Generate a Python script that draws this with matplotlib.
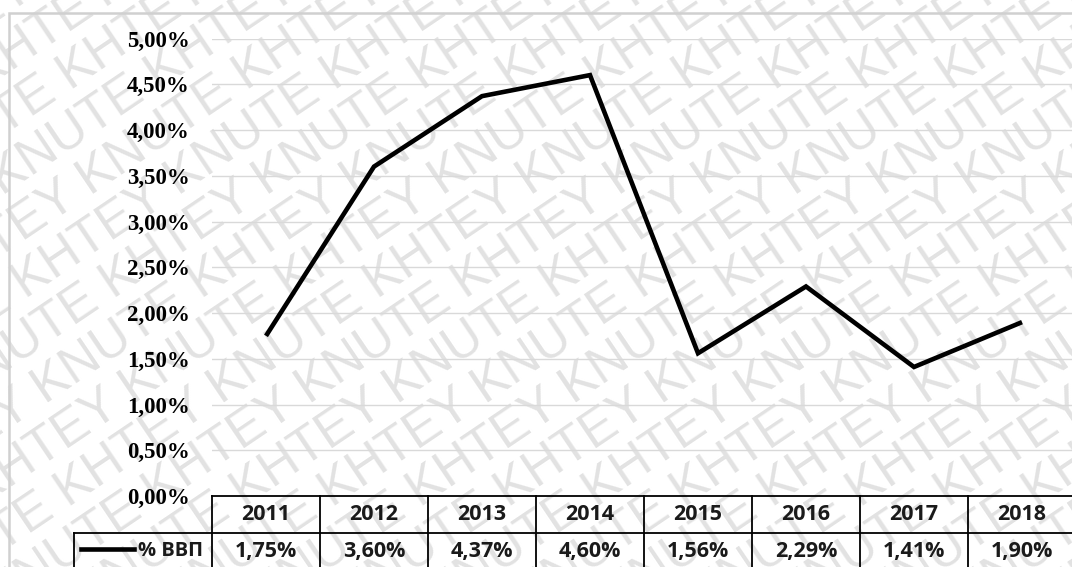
import matplotlib
matplotlib.use("Agg")
import matplotlib.pyplot as plt
from matplotlib.lines import Line2D
from matplotlib.patches import Rectangle
import matplotlib.transforms as mtransforms

years = ["2011", "2012", "2013", "2014", "2015", "2016", "2017", "2018"]
values = [1.75, 3.60, 4.37, 4.60, 1.56, 2.29, 1.41, 1.90]
value_labels = ["1,75%", "3,60%", "4,37%", "4,60%", "1,56%", "2,29%", "1,41%", "1,90%"]
series_name = "% ВВП"
y_ticks = [0.0, 0.5, 1.0, 1.5, 2.0, 2.5, 3.0, 3.5, 4.0, 4.5, 5.0]
watermark_text = "KNUTE KHTEY "

W, H = 1072, 567
fig = plt.figure(figsize=(W / 100, H / 100), dpi=100)
fig.patch.set_facecolor("white")

# watermark (behind everything)
for k in range(-12, 14):
    x0 = k * 88
    fig.text(x0 / W, -0.08, watermark_text * 7, rotation=34, rotation_mode="anchor",
             ha="left", va="baseline", fontsize=37, color="#e2e2e2",
             family="Liberation Sans", fontweight="normal", zorder=-5, transform=fig.transFigure)

# outer border
fig.patches.append(Rectangle((9 / W, -0.1), 1.2, (H - 13) / H + 0.1,
                             transform=fig.transFigure, fill=False,
                             edgecolor="#d0d0d0", linewidth=1.8, zorder=-1))

col_w = 108
ax_left, ax_right = 212, 212 + col_w * 8
ax_top, ax_bot = 38.5, 496
ax = fig.add_axes([ax_left / W, (H - ax_bot) / H, (ax_right - ax_left) / W, (ax_bot - ax_top) / H])
ax.set_facecolor("none")

x = list(range(len(years)))
ax.plot(x, values, color="black", linewidth=3.3, solid_capstyle="butt", solid_joinstyle="miter", zorder=3)

ax.set_xlim(-0.5, len(years) - 0.5)
ax.set_ylim(0, 5.0)
ax.set_yticks(y_ticks)
ax.set_yticklabels([("%.2f" % v).replace(".", ",") + "%" for v in y_ticks],
                   family="Liberation Serif", fontweight="bold", fontsize=16.5)
ax.tick_params(axis="y", length=0, pad=16)
ax.set_xticks([])
for s in ax.spines.values():
    s.set_visible(False)
ax.grid(axis="y", color="#d9d9d9", linewidth=1.0, zorder=0)

# data table
tr = mtransforms.blended_transform_factory(ax.transData, ax.transAxes)
row_h = 37 / (ax_bot - ax_top)
px = lambda p: (p - ax_left) / col_w - 0.5  # pixel -> data x
leg_left = px(74)
n = len(years)
lw = 1.3
ax.add_line(Line2D([-0.5, n - 0.5], [0, 0], color="black", lw=lw, transform=tr, clip_on=False, zorder=4))
ax.add_line(Line2D([leg_left, n - 0.5], [-row_h, -row_h], color="black", lw=lw, transform=tr, clip_on=False, zorder=4))
for i in range(n + 1):
    ax.add_line(Line2D([i - 0.5, i - 0.5], [0, -2.5 * row_h], color="black", lw=lw, transform=tr, clip_on=False, zorder=4))
ax.add_line(Line2D([leg_left, leg_left], [-row_h, -2.5 * row_h], color="black", lw=lw, transform=tr, clip_on=False, zorder=4))

tfont = dict(family="Open Sans", fontweight="bold", fontsize=15.5, color="#1a1a1a")
for i in range(n):
    ax.text(i, -0.5 * row_h, years[i], ha="center", va="center", transform=tr, clip_on=False, **tfont)
    ax.text(i, -1.5 * row_h, value_labels[i], ha="center", va="center", transform=tr, clip_on=False, **tfont)

ax.add_line(Line2D([px(81), px(134)], [-1.5 * row_h + 0.006, -1.5 * row_h + 0.006], color="black", lw=3.3,
                   transform=tr, clip_on=False, zorder=4))
ax.text(px(203), -1.5 * row_h, series_name, ha="right", va="center", transform=tr, clip_on=False,
        family="Open Sans", fontweight="bold", fontsize=14.5, color="#1a1a1a")

fig.savefig("out.png", dpi=100)
